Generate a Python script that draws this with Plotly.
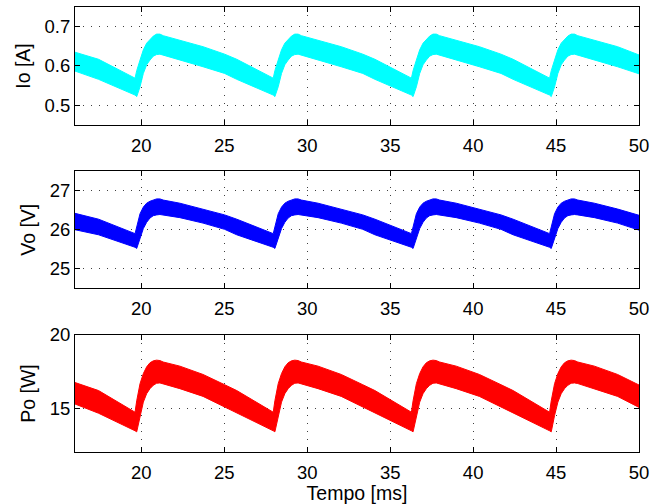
import plotly.graph_objects as go

# ---- data ----
time_ms = [16.0, 17.42,
           19.62, 19.72, 19.92, 20.12, 20.32, 20.52, 20.72, 20.92, 21.12, 21.32, 22.32, 23.72, 25.02, 25.75,
           27.95, 28.05, 28.25, 28.45, 28.65, 28.85, 29.05, 29.25, 29.45, 29.65, 30.65, 32.05, 33.35, 34.08,
           36.28, 36.38, 36.58, 36.78, 36.98, 37.18, 37.38, 37.58, 37.78, 37.98, 38.98, 40.38, 41.68, 42.41,
           44.61, 44.71, 44.91, 45.11, 45.31, 45.51, 45.71, 45.91, 46.11, 46.31, 47.31, 48.71, 50.0]

io_upper = [0.635, 0.617,
            0.569, 0.588, 0.615, 0.641, 0.658, 0.668, 0.676, 0.681, 0.681, 0.677, 0.666, 0.649, 0.630, 0.617,
            0.569, 0.588, 0.615, 0.641, 0.658, 0.668, 0.676, 0.681, 0.681, 0.677, 0.666, 0.649, 0.630, 0.617,
            0.569, 0.588, 0.615, 0.641, 0.658, 0.668, 0.676, 0.681, 0.681, 0.677, 0.666, 0.649, 0.630, 0.617,
            0.569, 0.588, 0.615, 0.641, 0.658, 0.668, 0.676, 0.681, 0.681, 0.677, 0.666, 0.649, 0.628]
io_lower = [0.587, 0.566,
            0.526, 0.522, 0.547, 0.581, 0.603, 0.615, 0.625, 0.629, 0.630, 0.628, 0.615, 0.598, 0.581, 0.566,
            0.526, 0.522, 0.547, 0.581, 0.603, 0.615, 0.625, 0.629, 0.630, 0.628, 0.615, 0.598, 0.581, 0.566,
            0.526, 0.522, 0.547, 0.581, 0.603, 0.615, 0.625, 0.629, 0.630, 0.628, 0.615, 0.598, 0.581, 0.566,
            0.526, 0.522, 0.547, 0.581, 0.603, 0.615, 0.625, 0.629, 0.630, 0.628, 0.615, 0.598, 0.580]

vo_upper = [26.42, 26.27,
            25.90, 26.07, 26.41, 26.58, 26.68, 26.73, 26.77, 26.79, 26.79, 26.76, 26.68, 26.53, 26.38, 26.27,
            25.90, 26.07, 26.41, 26.58, 26.68, 26.73, 26.77, 26.79, 26.79, 26.76, 26.68, 26.53, 26.38, 26.27,
            25.90, 26.07, 26.41, 26.58, 26.68, 26.73, 26.77, 26.79, 26.79, 26.76, 26.68, 26.53, 26.38, 26.27,
            25.90, 26.07, 26.41, 26.58, 26.68, 26.73, 26.77, 26.79, 26.79, 26.76, 26.68, 26.53, 26.37]
vo_lower = [26.00, 25.87,
            25.55, 25.52, 25.77, 26.03, 26.19, 26.30, 26.36, 26.38, 26.39, 26.38, 26.31, 26.17, 26.01, 25.87,
            25.55, 25.52, 25.77, 26.03, 26.19, 26.30, 26.36, 26.38, 26.39, 26.38, 26.31, 26.17, 26.01, 25.87,
            25.55, 25.52, 25.77, 26.03, 26.19, 26.30, 26.36, 26.38, 26.39, 26.38, 26.31, 26.17, 26.01, 25.87,
            25.55, 25.52, 25.77, 26.03, 26.19, 26.30, 26.36, 26.38, 26.39, 26.38, 26.31, 26.17, 25.99]

po_upper = [16.75, 16.20,
            14.72, 15.50, 16.67, 17.36, 17.82, 18.10, 18.23, 18.28, 18.25, 18.15, 17.87, 17.30, 16.60, 16.20,
            14.72, 15.50, 16.67, 17.36, 17.82, 18.10, 18.23, 18.28, 18.25, 18.15, 17.87, 17.30, 16.60, 16.20,
            14.72, 15.50, 16.67, 17.36, 17.82, 18.10, 18.23, 18.28, 18.25, 18.15, 17.87, 17.30, 16.60, 16.20,
            14.72, 15.50, 16.67, 17.36, 17.82, 18.10, 18.23, 18.28, 18.25, 18.15, 17.87, 17.30, 16.58]
po_lower = [15.28, 14.65,
            13.45, 13.38, 14.50, 15.41, 15.99, 16.33, 16.56, 16.70, 16.72, 16.68, 16.33, 15.80, 15.10, 14.65,
            13.45, 13.38, 14.50, 15.41, 15.99, 16.33, 16.56, 16.70, 16.72, 16.68, 16.33, 15.80, 15.10, 14.65,
            13.45, 13.38, 14.50, 15.41, 15.99, 16.33, 16.56, 16.70, 16.72, 16.68, 16.33, 15.80, 15.10, 14.65,
            13.45, 13.38, 14.50, 15.41, 15.99, 16.33, 16.56, 16.70, 16.72, 16.68, 16.33, 15.80, 15.05]

x_ticks = [20, 25, 30, 35, 40, 45, 50]
io_ticks = [0.5, 0.6, 0.7]
vo_ticks = [25, 26, 27]
po_ticks = [15, 20]

y_titles = ["Io [A]", "Vo [V]", "Po [W]"]
x_title = "Tempo [ms]"

# ---- figure ----
FONT = "Liberation Sans, Arial, Helvetica, sans-serif"
TICK_SIZE = 18.5
TITLE_SIZE = 19.5
fig = go.Figure()

series = [(io_upper, io_lower, "#00FFFF", "x", "y"),
          (vo_upper, vo_lower, "#0000FF", "x2", "y2"),
          (po_upper, po_lower, "#FF0000", "x3", "y3")]

for up, lo, col, xa, ya in series:
    xs = time_ms + time_ms[::-1]
    ys = up + lo[::-1]
    fig.add_trace(go.Scatter(x=xs, y=ys, mode="lines", fill="toself",
                             fillcolor=col, line=dict(color=col, width=1),
                             xaxis=xa, yaxis=ya, showlegend=False, hoverinfo="skip"))

common_axis = dict(showline=True, linecolor="black", linewidth=1, mirror="allticks",
                   ticks="inside", ticklen=5, tickcolor="black", tickwidth=1,
                   showgrid=True, gridcolor="rgba(0,0,0,0.75)", gridwidth=1, griddash="1px,7px",
                   zeroline=False, automargin=False,
                   tickfont=dict(family=FONT, size=TICK_SIZE, color="black"))

domains = [[0.735, 1.0], [0.368, 0.631], [0.0, 0.263]]
yranges = [[0.45, 0.75], [24.5, 27.5], [12, 20]]
yticks = [io_ticks, vo_ticks, po_ticks]
yfmt = [".1f", "d", "d"]

layout = dict(width=651, height=504, margin=dict(l=75, r=12, t=7, b=52, pad=0, autoexpand=False),
              paper_bgcolor="white", plot_bgcolor="white",
              font=dict(family=FONT, size=TITLE_SIZE, color="black"), showlegend=False)

for i in range(3):
    xn = "xaxis" if i == 0 else f"xaxis{i+1}"
    yn = "yaxis" if i == 0 else f"yaxis{i+1}"
    anchor_y = "y" if i == 0 else f"y{i+1}"
    anchor_x = "x" if i == 0 else f"x{i+1}"
    xa = dict(common_axis, domain=[0, 1], anchor=anchor_y, range=[16, 50],
              tickmode="array", tickvals=x_ticks, ticktext=[str(v) for v in x_ticks],
              ticklabelstandoff=4)
    if i == 2:
        xa["title"] = dict(text=x_title, font=dict(family=FONT, size=TITLE_SIZE), standoff=2)
    ya = dict(common_axis, domain=domains[i], anchor=anchor_x, range=yranges[i],
              tickmode="array", tickvals=yticks[i], tickformat=yfmt[i],
              title=dict(text=y_titles[i], font=dict(family=FONT, size=TITLE_SIZE), standoff=8))
    layout[xn] = xa
    layout[yn] = ya

fig.update_layout(**layout)
fig.write_html("out.html", config={"displayModeBar": False},
               post_script="document.body.style.margin='0';document.body.style.overflow='hidden';")
